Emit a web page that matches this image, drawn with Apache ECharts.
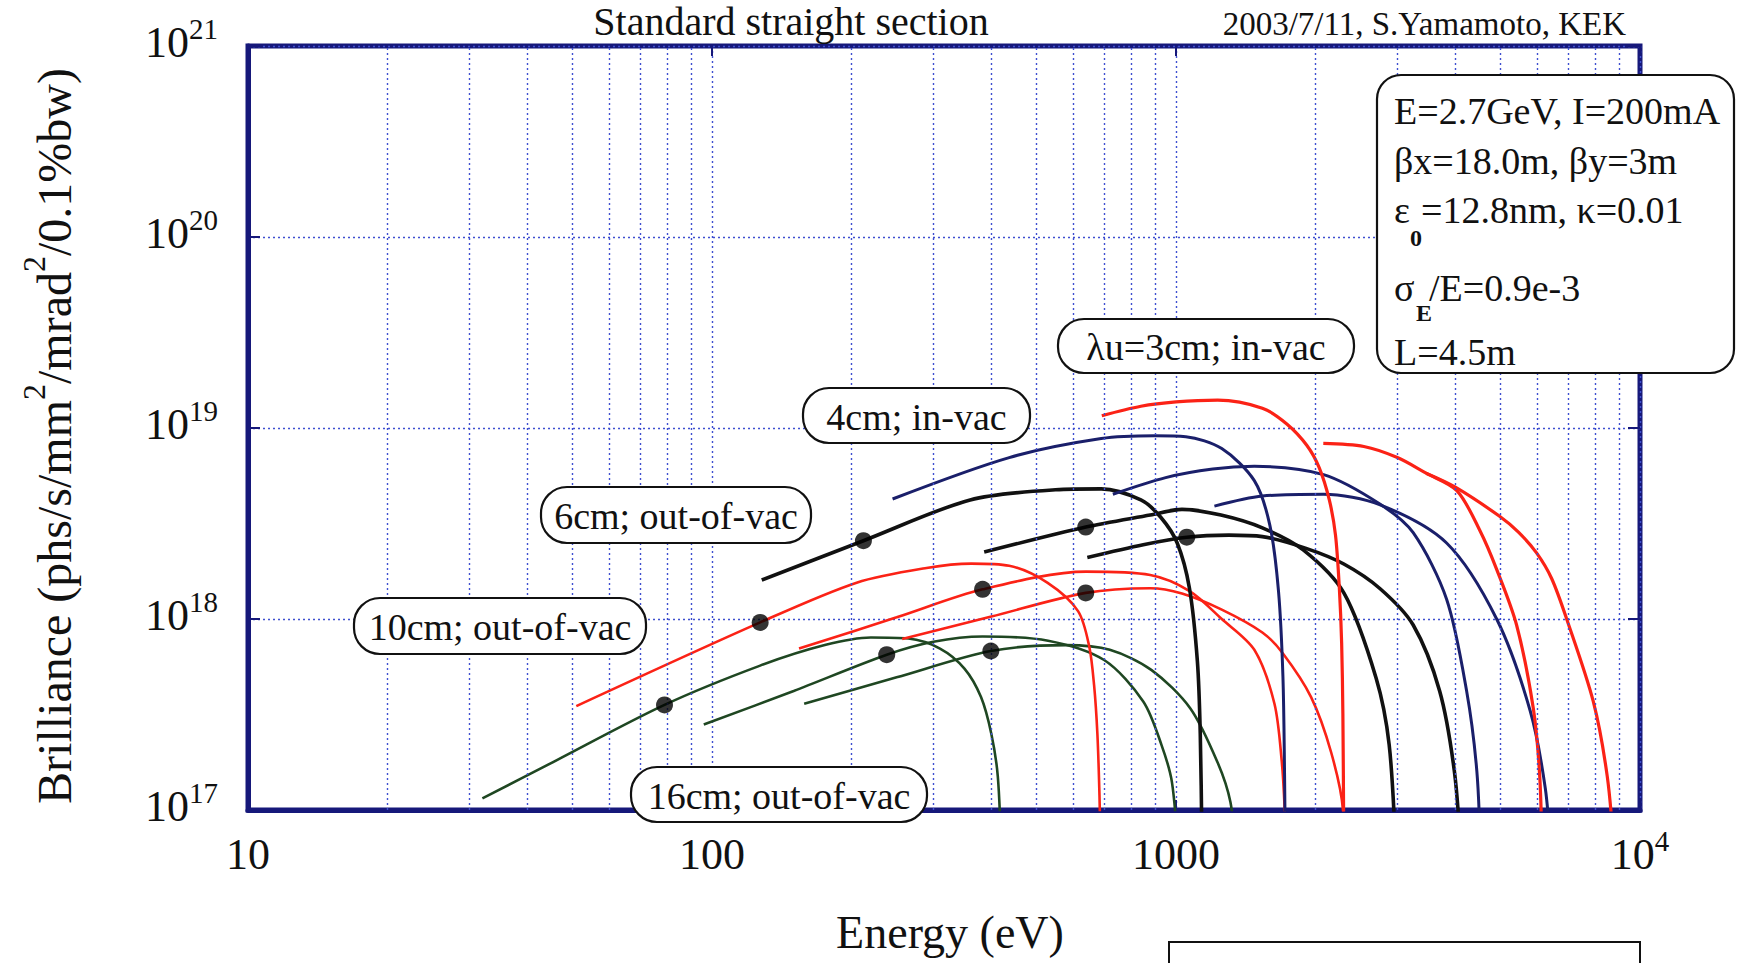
<!DOCTYPE html>
<html><head><meta charset="utf-8">
<script src="https://cdn.jsdelivr.net/npm/echarts@6/dist/echarts.min.js"></script>
<style>html,body{margin:0;padding:0;background:#fff}#c{width:1737px;height:963px}</style>
</head><body><div id="c"></div>
<script>
// ---------- axis ticks ----------
const xTicks = [10, 100, 1000, 10000];
const yTicks = [1e17, 1e18, 1e19, 1e20, 1e21];
const xMinor = [20,30,40,50,60,70,80,90,200,300,400,500,600,700,800,900,2000,3000,4000,5000,6000,7000,8000,9000];

// ---------- curves: [photon energy (eV), brilliance] ----------
// 16cm out-of-vac (green), harmonics 1,3,5
const u16_h1 = [[32,1.15e17],[45,1.76e17],[79,3.55e17],[127,5.7e17],[175,7.3e17],[220,8.0e17],[265,7.9e17],[310,7.0e17],[350,5.5e17],[380,3.9e17],[400,2.5e17],[413,1.5e17],[420,0.6e17]];
const u16_h3 = [[96,2.8e17],[150,4.2e17],[238,6.5e17],[300,7.6e17],[383,8.1e17],[530,7.7e17],[700,6.1e17],[850,3.7e17],[930,2.2e17],[980,1.4e17],[1010,0.6e17]];
const u16_h5 = [[158,3.6e17],[250,4.95e17],[399,6.8e17],[580,7.3e17],[720,6.9e17],[886,5.4e17],[1074,3.4e17],[1232,1.75e17],[1310,1.1e17],[1345,0.6e17]];
// 10cm out-of-vac (red)
const u10_h1 = [[51,3.5e17],[127,9.6e17],[205,1.55e18],[290,1.85e18],[362,1.95e18],[437,1.9e18],[528,1.55e18],[615,1.1e18],[650,7.2e17],[666,4.5e17],[677,2.5e17],[684,1.2e17],[688,0.6e17]];
const u10_h3 = [[154,7.0e17],[250,1.02e18],[383,1.43e18],[640,1.77e18],[880,1.70e18],[1070,1.4e18],[1255,1.0e18],[1475,6.9e17],[1630,3.6e17],[1690,1.8e17],[1715,1.0e17],[1722,0.6e17]];
const u10_h5 = [[257,7.85e17],[400,1.03e18],[639,1.37e18],[880,1.45e18],[1030,1.36e18],[1255,1.12e18],[1535,8.5e17],[1700,6.6e17],[1955,3.9e17],[2160,2.0e17],[2290,1.0e17],[2300,0.6e17]];
// 6cm out-of-vac (black)
const u6_h1 = [[128,1.6e18],[212,2.57e18],[360,4.2e18],[550,4.75e18],[690,4.8e18],[840,4.2e18],[928,3.4e18],[1006,2.5e18],[1069,1.45e18],[1112,6.0e17],[1128,2.5e17],[1138,0.6e17]];
const u6_h3 = [[386,2.24e18],[639,3.03e18],[880,3.5e18],[1030,3.75e18],[1250,3.5e18],[1535,3.0e18],[1880,2.3e18],[2300,1.37e18],[2700,4.9e17],[2880,2.2e17],[2975,0.6e17]];
const u6_h5 = [[644,2.1e18],[850,2.45e18],[1055,2.68e18],[1300,2.75e18],[1535,2.7e18],[1900,2.35e18],[2300,1.94e18],[2754,1.44e18],[3245,9.3e17],[3700,4.2e17],[3980,1.6e17],[4110,0.6e17]];
// 4cm in-vac (navy)
const u4_h1 = [[245,4.25e18],[437,7.0e18],[690,8.8e18],[900,9.1e18],[1050,9.0e18],[1255,7.8e18],[1475,5.3e18],[1593,3.1e18],[1663,1.4e18],[1700,5e17],[1714,1.5e17],[1720,0.6e17]];
const u4_h3 = [[731,4.5e18],[950,5.5e18],[1200,6.1e18],[1475,6.3e18],[2080,5.7e18],[2750,4.0e18],[3245,2.83e18],[3830,1.27e18],[4230,4.2e17],[4450,1.6e17],[4530,0.6e17]];
const u4_h5 = [[1210,3.9e18],[1535,4.4e18],[2080,4.5e18],[2754,3.96e18],[3830,2.5e18],[4910,1.0e18],[5800,3.3e17],[6250,1.3e17],[6420,0.6e17]];
// 3cm in-vac (red)
const u3_h1 = [[692,1.16e19],[840,1.3e19],[1000,1.37e19],[1230,1.4e19],[1535,1.27e19],[1733,1.05e19],[1915,8.1e18],[2035,6.2e18],[2140,4.2e18],[2207,2.74e18],[2250,1.43e18],[2275,7.5e17],[2289,3.2e17],[2300,0.6e17]];
const u3_h3 = [[2077,8.3e18],[2540,8.0e18],[3000,7.0e18],[3460,5.8e18],[4030,4.7e18],[4520,2.9e18],[4910,1.82e18],[5420,9.3e17],[5890,3.4e17],[6080,1.5e17],[6150,0.6e17]];
const u3_h5 = [[3460,5.8e18],[4000,4.9e18],[4990,3.44e18],[5470,2.85e18],[5985,2.22e18],[6450,1.63e18],[6950,1.0e18],[7930,3.7e17],[8500,1.5e17],[8800,0.6e17]];

// ---------- markers (dots) ----------
const dots16 = [[79,3.55e17],[238,6.5e17],[399,6.8e17]];
const dots10 = [[127,9.6e17],[383,1.43e18],[639,1.37e18]];
const dots6  = [[212,2.57e18],[639,3.03e18],[1055,2.68e18]];

// ---------- texts ----------
const titleText = 'Standard straight section';
const dateText = '2003/7/11, S.Yamamoto, KEK';
const xName = 'Energy (eV)';
const labels = ['λu=3cm; in-vac', '4cm; in-vac', '6cm; out-of-vac', '10cm; out-of-vac', '16cm; out-of-vac'];

// ---------- styles ----------
const FF = '"Liberation Serif","Times New Roman",serif';
const NAVY_AX = '#16187a';
const GRIDC = '#3f4fd0';
const RED = '#fb2216', NAVY = '#1a1f6a', BLACK = '#111111', GREEN = '#1f4722';

const chart = echarts.init(document.getElementById('c'), null, {renderer: 'svg'});

function curve(data, color, width) {
  return {type: 'line', data: data, showSymbol: false, smooth: 0.3, clip: true,
          lineStyle: {color: color, width: width}, silent: true, z: 3};
}
function dots(data) {
  return {type: 'scatter', data: data, symbol: 'circle', symbolSize: 17,
          itemStyle: {color: '#000'}, silent: true, z: 5};
}

const series = [
  {type: 'line', data: [], silent: true, z: 1,
   markLine: {silent: true, symbol: 'none', animation: false,
     label: {show: false},
     lineStyle: {type: [2, 3], color: GRIDC, width: 1.4},
     data: xMinor.map(v => ({xAxis: v}))}},
  curve(u16_h1, GREEN, 2.6), curve(u16_h3, GREEN, 2.6), curve(u16_h5, GREEN, 2.6),
  curve(u10_h1, RED, 2.6), curve(u10_h3, RED, 2.6), curve(u10_h5, RED, 2.6),
  curve(u6_h1, BLACK, 3.6), curve(u6_h3, BLACK, 3.6), curve(u6_h5, BLACK, 3.6),
  curve(u4_h1, NAVY, 3), curve(u4_h3, NAVY, 3), curve(u4_h5, NAVY, 3),
  curve(u3_h1, RED, 3.2), curve(u3_h3, RED, 3.2), curve(u3_h5, RED, 3.2),
  dots(dots16), dots(dots10), dots(dots6)
];

const boxes = [
  {x: 1058, y: 319, w: 296, h: 54},
  {x: 803,  y: 388, w: 227, h: 55},
  {x: 541,  y: 487, w: 270, h: 56},
  {x: 354,  y: 598, w: 292, h: 56},
  {x: 631,  y: 767, w: 296, h: 55}
];

const graphics = [];
graphics.push({type: 'text', x: 791, y: 21, z: 100,
  style: {text: titleText, font: '40px ' + FF, fill: '#111', textAlign: 'center', textVerticalAlign: 'middle', align: 'center', verticalAlign: 'middle'}});
graphics.push({type: 'text', x: 1626, y: 24, z: 100,
  style: {text: dateText, font: '33px ' + FF, fill: '#111', textAlign: 'right', textVerticalAlign: 'middle', align: 'right', verticalAlign: 'middle'}});
graphics.push({type: 'text', x: 48, y: 436, rotation: Math.PI / 2, z: 100,
  style: {text: '{b|Brilliance (phs/s/mm}{s|2}{b|/mrad}{s|2}{b|/0.1%bw)}',
    align: 'center', verticalAlign: 'middle', textAlign: 'center', textVerticalAlign: 'middle',
    rich: {b: {font: '48px ' + FF, fill: '#111', lineHeight: 60, verticalAlign: 'bottom'},
           s: {font: '32px ' + FF, fill: '#111', lineHeight: 60, verticalAlign: 'top'}}}});
graphics.push({type: 'text', x: 950, y: 932, z: 100,
  style: {text: xName, font: '46px ' + FF, fill: '#111', textAlign: 'center', textVerticalAlign: 'middle', align: 'center', verticalAlign: 'middle'}});
boxes.forEach((b, i) => {
  graphics.push({type: 'rect', z: 100, shape: {x: b.x, y: b.y, width: b.w, height: b.h, r: 26},
    style: {fill: '#fff', stroke: '#111', lineWidth: 2.2}});
  graphics.push({type: 'text', z: 101, x: b.x + b.w / 2, y: b.y + b.h / 2 + 1,
    style: {text: labels[i], font: '38px ' + FF, fill: '#111', textAlign: 'center', textVerticalAlign: 'middle', align: 'center', verticalAlign: 'middle'}});
});
graphics.push({type: 'rect', z: 100, shape: {x: 1377, y: 75, width: 357, height: 298, r: 24},
  style: {fill: '#fff', stroke: '#111', lineWidth: 2.2}});
const pf = '38px ' + FF;
function ptext(t, x, y, font, align) {
  graphics.push({type: 'text', z: 101, x: x, y: y,
    style: {text: t, font: font || pf, fill: '#111', textAlign: align || 'left', textVerticalAlign: 'middle', align: align || 'left', verticalAlign: 'middle'}});
}
ptext('E=2.7GeV, I=200mA', 1394, 111);
ptext('βx=18.0m, βy=3m', 1394, 161);
ptext('ε', 1394, 210);
ptext('=12.8nm, κ=0.01', 1421, 210);
ptext('0', 1416, 238, 'bold 24px ' + FF, 'center');
ptext('σ', 1394, 288);
ptext('/E=0.9e-3', 1429, 288);
ptext('E', 1424, 313, 'bold 24px ' + FF, 'center');
ptext('L=4.5m', 1394, 352);
graphics.push({type: 'rect', z: 100, shape: {x: 1169, y: 942, width: 471, height: 40},
  style: {fill: 'none', stroke: '#111', lineWidth: 2}});

function supLabel(v) {
  const e = Math.round(Math.log10(v));
  return '{b|10}{s|' + e + '}';
}
const richLab = {
  b: {fontSize: 44, fontFamily: FF, color: '#111', lineHeight: 50, verticalAlign: 'bottom'},
  s: {fontSize: 29, fontFamily: FF, color: '#111', lineHeight: 50, verticalAlign: 'top'}
};

chart.setOption({
  backgroundColor: '#ffffff',
  animation: false,
  grid: {left: 248, top: 46, width: 1392, height: 764, show: true,
         borderColor: NAVY_AX, borderWidth: 5, backgroundColor: 'transparent'},
  xAxis: [{
    type: 'log', logBase: 10, min: 10, max: 10000, splitNumber: 3,
    axisLine: {show: true, lineStyle: {color: NAVY_AX, width: 5}},
    axisTick: {show: true, inside: true, length: 10, lineStyle: {color: NAVY_AX, width: 2}},
    splitLine: {show: true, lineStyle: {type: [2, 3], color: GRIDC, width: 1.4}},
    axisLabel: {margin: 16, formatter: function (v) {
      const r = Math.round(v);
      if (r >= 10000) return supLabel(r);
      return '{b|' + r + '}';
    }, rich: richLab}
  }, {
    type: 'log', logBase: 10, min: 10, max: 10000, splitNumber: 3, position: 'top',
    axisLine: {show: false}, axisLabel: {show: false}, splitLine: {show: false},
    axisTick: {show: true, inside: true, length: 10, lineStyle: {color: NAVY_AX, width: 2}}
  }],
  yAxis: [{
    type: 'log', logBase: 10, min: 1e17, max: 1e21, splitNumber: 4,
    axisLine: {show: true, lineStyle: {color: NAVY_AX, width: 5}},
    axisTick: {show: true, inside: true, length: 12, lineStyle: {color: NAVY_AX, width: 2}},
    splitLine: {show: true, lineStyle: {type: [2, 3], color: GRIDC, width: 1.4}},
    axisLabel: {margin: 30, padding: [0, 0, 14, 0], formatter: supLabel, rich: richLab}
  }, {
    type: 'log', logBase: 10, min: 1e17, max: 1e21, splitNumber: 4, position: 'right',
    axisLine: {show: false}, axisLabel: {show: false}, splitLine: {show: false},
    axisTick: {show: true, inside: true, length: 12, lineStyle: {color: NAVY_AX, width: 2}}
  }],
  series: series,
  graphic: {elements: graphics}
});
</script>
</body></html>
